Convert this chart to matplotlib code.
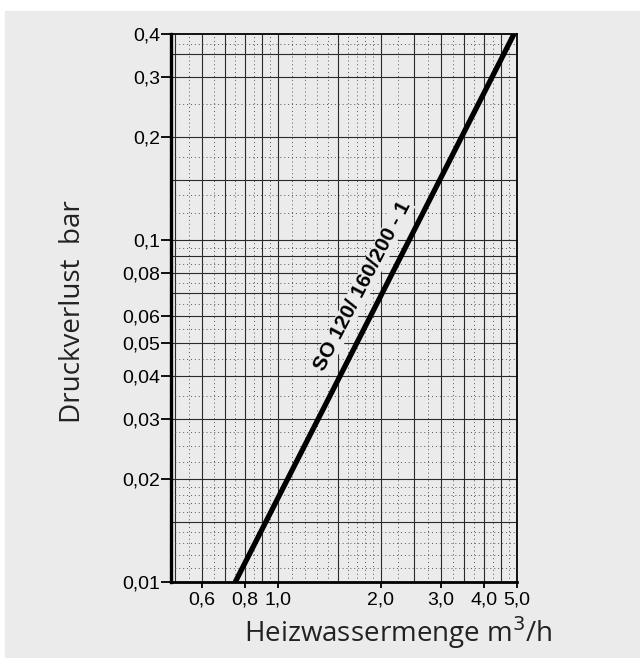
import numpy as np
import matplotlib
matplotlib.use('Agg')
import matplotlib.pyplot as plt
from matplotlib.patches import Rectangle
from matplotlib.ticker import FixedLocator, NullLocator

# Kennlinie SO 120/160/200-1
durchfluss = [0.75, 4.9]      # m3/h
druckverlust = [0.01, 0.4]    # bar

x_ticks = [0.6, 0.8, 1.0, 2.0, 3.0, 4.0, 5.0]
x_ticklabels = ['0,6', '0,8', '1,0', '2,0', '3,0', '4,0', '5,0']
y_ticks = [0.01, 0.02, 0.03, 0.04, 0.05, 0.06, 0.08, 0.1, 0.2, 0.3, 0.4]
y_ticklabels = ['0,01', '0,02', '0,03', '0,04', '0,05', '0,06', '0,08',
                '0,1', '0,2', '0,3', '0,4']

# Rasterlinien (Millimeterpapier-Optik)
x_grid_solid = [0.5, 0.6, 0.7, 0.8, 0.9, 1.0, 1.5, 2.0, 2.5, 3.0,
                3.5, 4.0, 4.5]
x_grid_dot = [0.55, 0.65, 0.75, 0.85, 0.95, 1.1, 1.2, 1.3, 1.4, 1.6,
              1.7, 1.8, 1.9, 2.25, 2.75, 3.25, 3.75, 4.25, 4.75]
y_grid_solid = [0.01, 0.015, 0.02, 0.03, 0.04, 0.05, 0.06, 0.07, 0.08,
                0.09, 0.1, 0.15, 0.2, 0.3, 0.35]
y_grid_dot = [0.011, 0.012, 0.013, 0.014, 0.016, 0.017, 0.018, 0.019,
              0.0225, 0.025, 0.0275, 0.035, 0.045, 0.055, 0.065, 0.075,
              0.085, 0.095, 0.12, 0.135, 0.175, 0.25, 0.375]

bg = '#ebebeb'
ink = '#2a2a2a'

fig = plt.figure(figsize=(6.4, 6.58), dpi=100)
fig.patches.append(Rectangle((5 / 640, 0), 1, (658 - 11) / 658,
                             transform=fig.transFigure, color=bg, zorder=-10))

ax = fig.add_axes([171 / 640, 1 - 582 / 658, 346 / 640, 548 / 658])
ax.set_facecolor(bg)
ax.set_xscale('log')
ax.set_yscale('log')
ax.set_xlim(10 ** ((171 - 278) / 342), 5.0)
ax.set_ylim(0.01, 0.4)

for v in x_grid_solid:
    ax.axvline(v, color=ink, lw=0.8, zorder=1)
for v in x_grid_dot:
    ax.axvline(v, color='#555555', lw=0.7, ls=(0, (1, 3)), zorder=1)
for v in y_grid_solid:
    ax.axhline(v, color=ink, lw=0.8, zorder=1)
for v in y_grid_dot:
    ax.axhline(v, color='#555555', lw=0.7, ls=(0, (1, 3)), zorder=1)

ax.plot(durchfluss, druckverlust, color='black', lw=3.8,
        solid_capstyle='butt', zorder=3)

ax.text(1.77, 0.0734, 'SO 120/ 160/200 - 1', rotation=62.5,
        rotation_mode='anchor', ha='center', va='center',
        fontsize=15, fontweight='bold', family='Liberation Sans',
        color='black', zorder=4,
        bbox=dict(facecolor=bg, edgecolor='none', pad=0.5))

ax.xaxis.set_major_locator(FixedLocator(x_ticks))
ax.xaxis.set_minor_locator(NullLocator())
ax.set_xticklabels(x_ticklabels)
ax.yaxis.set_major_locator(FixedLocator(y_ticks))
ax.yaxis.set_minor_locator(NullLocator())
ax.set_yticklabels(y_ticklabels)

for lab in ax.get_xticklabels() + ax.get_yticklabels():
    lab.set_family('Liberation Sans')
    lab.set_fontsize(14)
ax.tick_params(axis='y', length=7, width=1.3, pad=1, color='black')
ax.tick_params(axis='x', length=4, width=1.3, pad=3, color='black')

ax.spines['left'].set_linewidth(2.4)
ax.spines['bottom'].set_linewidth(2.0)
ax.spines['top'].set_linewidth(1.3)
ax.spines['right'].set_linewidth(1.3)
for s in ax.spines.values():
    s.set_color('black')
    s.set_zorder(5)

fig.text(73 / 640, 1 - 312 / 658, 'Druckverlust  bar', rotation=90,
         ha='center', va='center', fontsize=20, family='Open Sans',
         color='#222222')
fig.text(398 / 640, 1 - 633 / 658, 'Heizwassermenge m$^3$/h',
         ha='center', va='center', fontsize=20, family='Open Sans',
         color='#222222')

fig.savefig('out.png', dpi=100, facecolor='white')
